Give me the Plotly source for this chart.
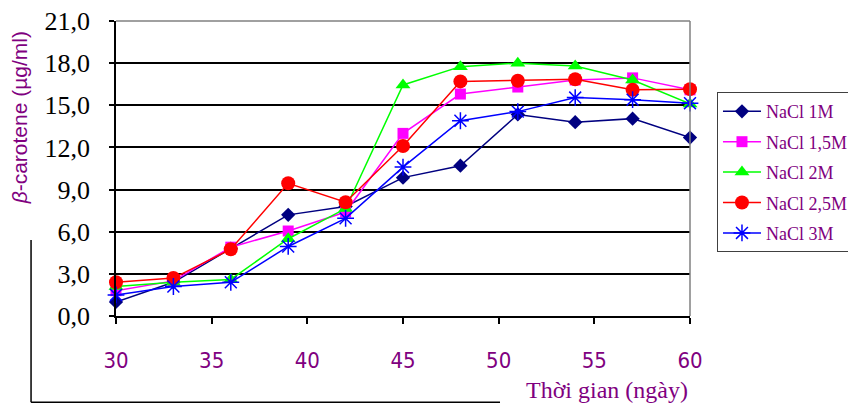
import plotly.graph_objects as go

# Culture time (days)
days = [30, 33, 36, 39, 42, 45, 48, 51, 54, 57, 60]

# beta-carotene content (µg/ml) for each NaCl concentration
nacl_1m = [1.0, 2.4, 4.8, 7.2, 7.8, 9.85, 10.7, 14.35, 13.8, 14.05, 12.7]
nacl_15m = [1.8, 2.5, 4.9, 6.05, 7.4, 13.0, 15.8, 16.3, 16.8, 16.95, 16.1]
nacl_2m = [2.1, 2.4, 2.6, 5.5, 7.65, 16.45, 17.75, 18.0, 17.8, 16.8, 15.1]
nacl_25m = [2.4, 2.7, 4.75, 9.45, 8.1, 12.1, 16.7, 16.75, 16.85, 16.1, 16.15]
nacl_3m = [1.5, 2.1, 2.4, 4.95, 6.95, 10.6, 13.9, 14.55, 15.55, 15.4, 15.15]

series_names = ["NaCl 1M", "NaCl 1,5M", "NaCl 2M", "NaCl 2,5M", "NaCl 3M"]
y_ticks = [0, 3, 6, 9, 12, 15, 18, 21]
x_ticks = [30, 35, 40, 45, 50, 55, 60]

PURPLE = "#800080"

styles = [
    dict(color="#000080", symbol="diamond", size=11),
    dict(color="#FF00FF", symbol="square", size=11),
    dict(color="#00FF00", symbol="triangle-up", size=13),
    dict(color="#FF0000", symbol="circle", size=14),
    dict(color="#0000FF", symbol="asterisk-open", size=14),
]

fig = go.Figure()
for i, (name, vals, st) in enumerate(
    zip(series_names, [nacl_1m, nacl_15m, nacl_2m, nacl_25m, nacl_3m], styles)
):
    marker = dict(color=st["color"], symbol=st["symbol"], size=st["size"])
    if st["symbol"].endswith("open"):
        marker["line"] = dict(color=st["color"], width=1.5)
    fig.add_trace(
        go.Scatter(
            x=days,
            y=vals,
            name=name,
            mode="lines+markers",
            line=dict(color=st["color"], width=1.5),
            marker=marker,
            legendgroup=f"g{i}",
            cliponaxis=False,
        )
    )

fig.update_layout(
    width=848,
    height=405,
    margin=dict(l=116, r=158, t=21, b=89, autoexpand=False),
    paper_bgcolor="white",
    plot_bgcolor="white",
    separators=",.",
    showlegend=True,
    legend=dict(
        x=1.047,
        y=0.759,
        xanchor="left",
        yanchor="top",
        bgcolor="white",
        bordercolor="#404040",
        borderwidth=1,
        font=dict(family="Liberation Serif", size=18, color=PURPLE),
        traceorder="grouped",
        tracegroupgap=4,
        itemwidth=38,
    ),
    xaxis=dict(
        range=[30, 60],
        tickvals=x_ticks,
        ticks="outside",
        ticklen=6,
        tickwidth=1.5,
        tickcolor="black",
        showline=True,
        linecolor="black",
        linewidth=1.5,
        showgrid=False,
        zeroline=False,
        ticklabelstandoff=18,
        tickfont=dict(family="DejaVu Sans Condensed, Liberation Sans", size=22, color=PURPLE),
    ),
    yaxis=dict(
        range=[0, 21],
        tickvals=y_ticks,
        tickformat=".1f",
        ticks="outside",
        ticklen=5,
        tickwidth=1.5,
        tickcolor="black",
        showline=True,
        linecolor="black",
        linewidth=1.5,
        showgrid=True,
        gridcolor="black",
        gridwidth=1.5,
        zeroline=False,
        ticklabelstandoff=14,
        tickfont=dict(family="Liberation Serif", size=26, color="black"),
    ),
    annotations=[
        dict(
            text="<i>β</i>-carotene (µg/ml)",
            xref="paper",
            yref="paper",
            x=-0.168,
            y=0.672,
            xanchor="center",
            yanchor="middle",
            textangle=-90,
            showarrow=False,
            font=dict(family="Liberation Sans", size=21, color=PURPLE),
        ),
        dict(
            text="Thời gian (ngày)",
            xref="paper",
            yref="paper",
            x=1.0,
            y=-0.25,
            xanchor="right",
            yanchor="middle",
            showarrow=False,
            font=dict(family="Liberation Serif", size=24, color=PURPLE),
        ),
    ],
    shapes=[
        # grey frame on top and right of the plotting area
        dict(type="line", xref="paper", yref="paper", x0=0, x1=1, y0=1, y1=1,
             line=dict(color="#808080", width=1.5), layer="above"),
        dict(type="line", xref="paper", yref="paper", x0=1, x1=1, y0=0, y1=1,
             line=dict(color="#808080", width=1.5), layer="above"),
        # L-shaped bracket below and left of the chart
        dict(type="line", xref="paper", yref="paper", x0=-0.148, x1=-0.148,
             y0=0.258, y1=-0.292, line=dict(color="black", width=1.5)),
        dict(type="line", xref="paper", yref="paper", x0=-0.148, x1=0.669,
             y0=-0.292, y1=-0.292, line=dict(color="black", width=1.5)),
    ],
)

fig.write_html("out.html")
